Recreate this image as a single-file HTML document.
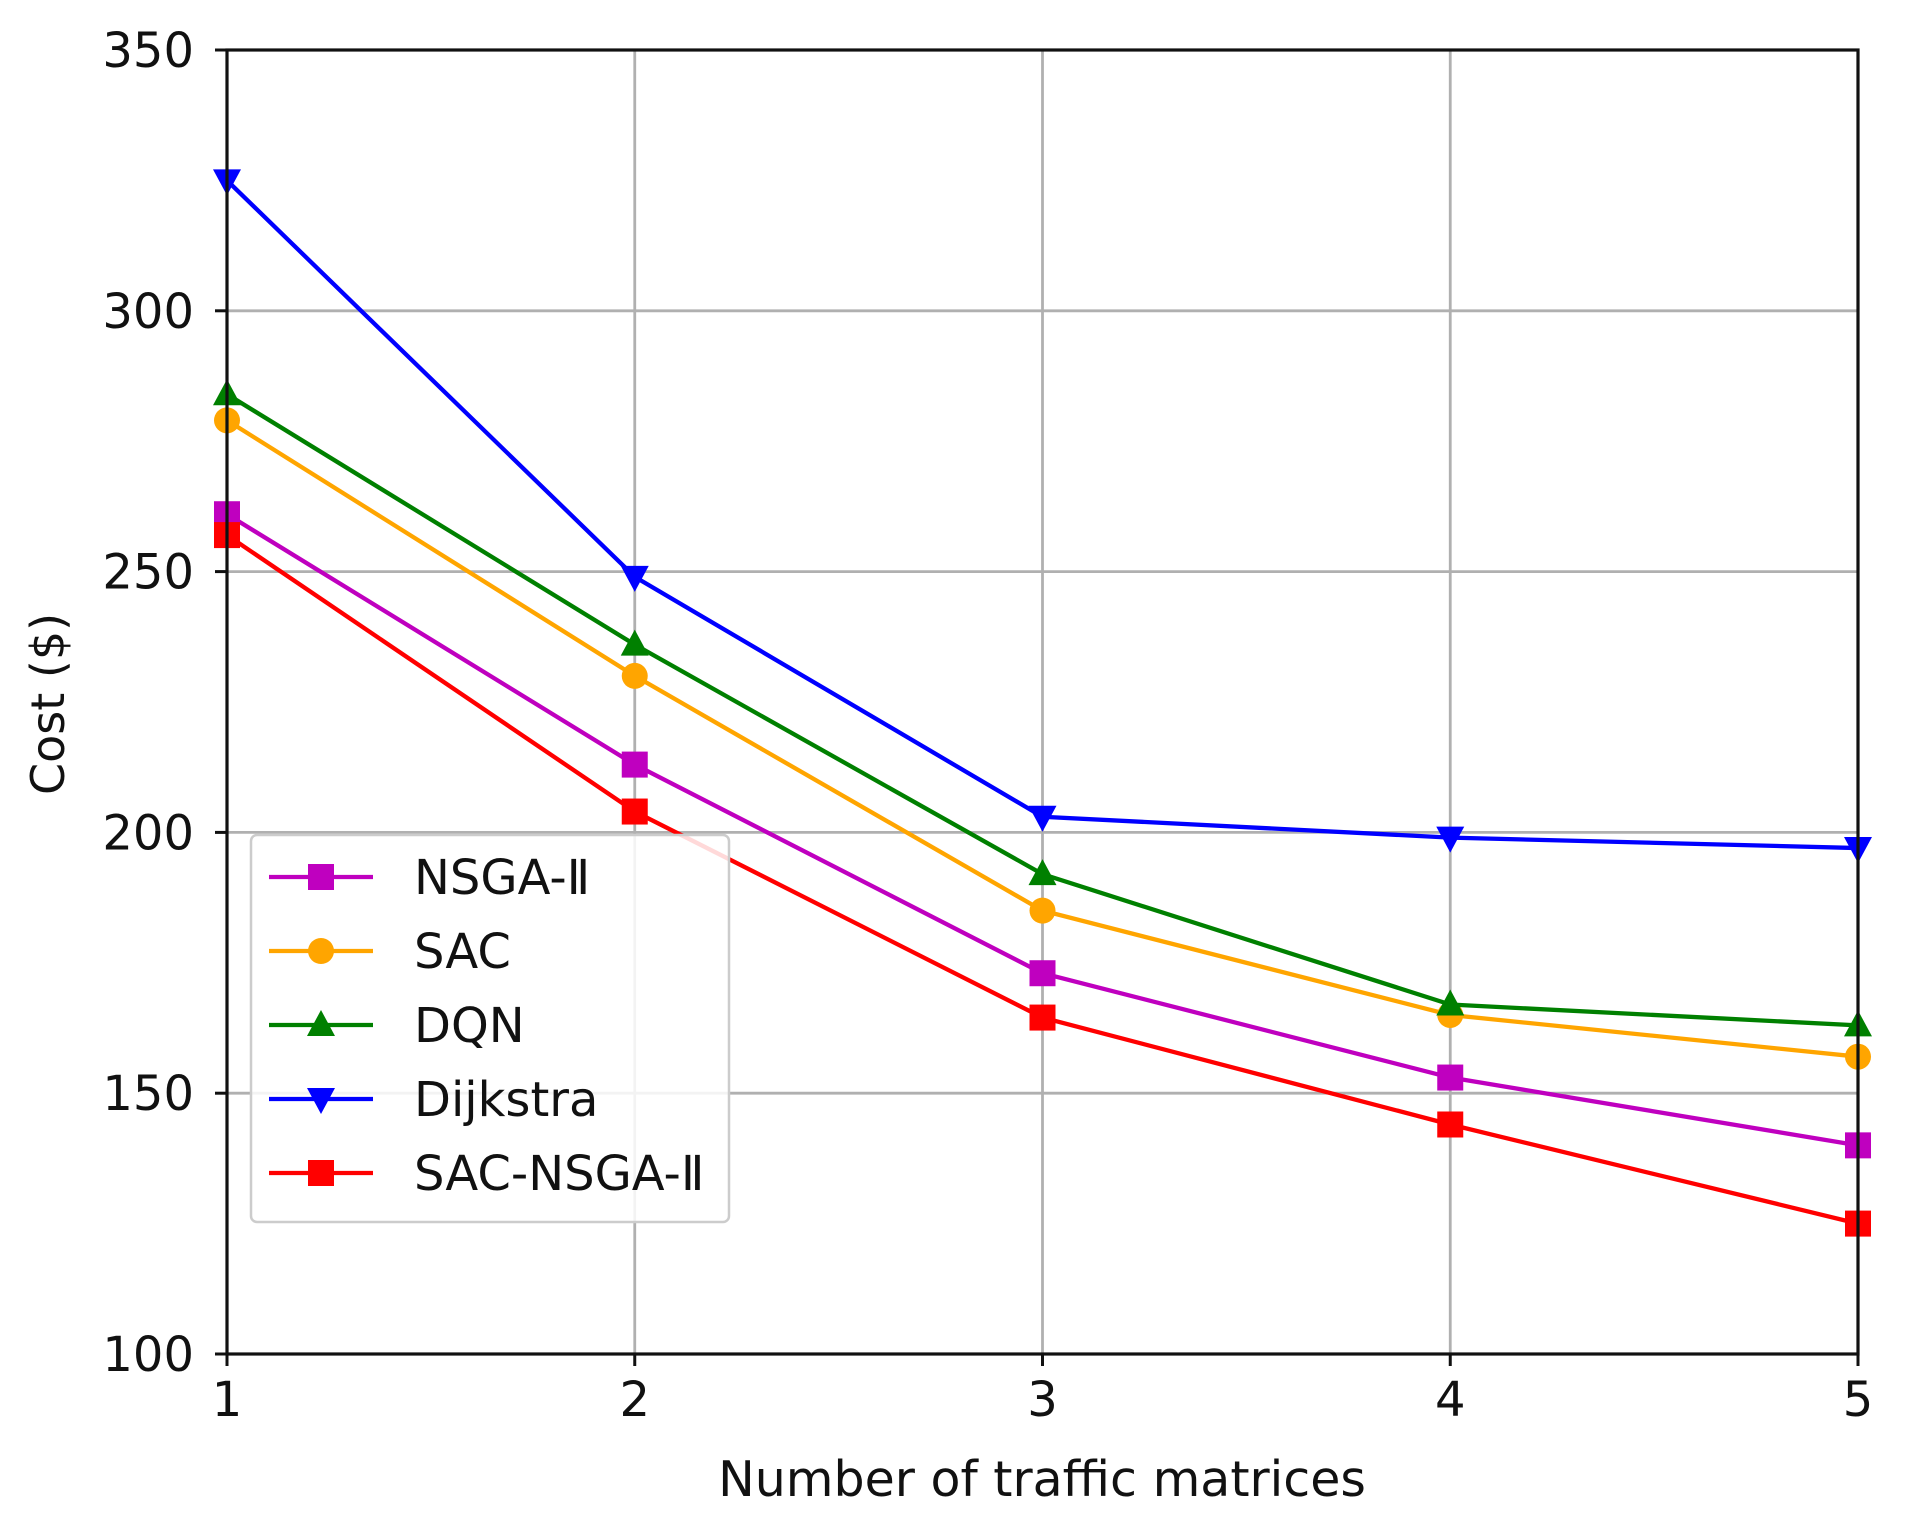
<!DOCTYPE html>
<html><head><meta charset="utf-8"><style>
html,body{margin:0;padding:0;background:#fff;}
svg{display:block;font-family:"DejaVu Sans","Liberation Sans",sans-serif;}
</style></head><body>
<svg id="chart" width="1920" height="1536" viewBox="0 0 1920 1536">
<g id="grid"></g>
<g id="series"></g>
<g id="axes"></g>
<text x="64" y="704" font-size="46" text-anchor="middle" transform="rotate(-90 64 704)" fill="#111">Cost ($)</text>
<text x="1042" y="1496" font-size="49" text-anchor="middle" fill="#111">Number of traffic matrices</text>
<g id="legend"></g>
</svg>
<script>
const categories=[1,2,3,4,5];
const yTicks=[100,150,200,250,300,350];
const seriesNames=["NSGA-Ⅱ","SAC","DQN","Dijkstra","SAC-NSGA-Ⅱ"];
const nsgaValues=[261,213,173,153,140];
const sacValues=[279,230,185,165,157];
const dqnValues=[284,236,192,167,163];
const dijkstraValues=[325,249,203,199,197];
const sacNsgaValues=[257,204,164.5,144,125];

const X0=227,X1=1858,Y0=1354,Y1=50;
const xs=v=>X0+(v-1)/(4)*(X1-X0);
const ys=v=>Y0-(v-100)/(250)*(Y0-Y1);
const NS="http://www.w3.org/2000/svg";
function mk(t,a,p){const e=document.createElementNS(NS,t);for(const k in a)e.setAttribute(k,a[k]);p.appendChild(e);return e;}
const grid=document.getElementById('grid'),axes=document.getElementById('axes'),ser=document.getElementById('series'),leg=document.getElementById('legend');
categories.forEach(c=>{
 const l=mk('line',{x1:xs(c),x2:xs(c),y1:Y1,y2:Y0,stroke:'#b0b0b0','stroke-width':2.8},grid);
 
 
 const t=mk('line',{x1:xs(c),x2:xs(c),y1:Y0,y2:Y0+12,stroke:'#111','stroke-width':3},axes);
 
 
 const tx=mk('text',{x:xs(c),y:Y0+62,'font-size':48,'text-anchor':'middle',fill:'#111'},axes);
 tx.textContent=c;
 
 
});
yTicks.forEach(v=>{
 const l=mk('line',{x1:X0,x2:X1,y1:ys(v),y2:ys(v),stroke:'#b0b0b0','stroke-width':2.8},grid);
 
 
 const t=mk('line',{x1:X0-12,x2:X0,y1:ys(v),y2:ys(v),stroke:'#111','stroke-width':3},axes);
 
 
 const tx=mk('text',{x:X0-33,y:ys(v)+17,'font-size':48,'text-anchor':'end',fill:'#111'},axes);
 tx.textContent=v;
 
 
});
const frame=mk('rect',{x:X0,y:Y1,width:X1-X0,height:Y0-Y1,fill:'none',stroke:'#111','stroke-width':3.2},axes);



function marker(type,x,y,color,p){
 const r=13;let e;
 if(type==='s')e=mk('rect',{x:x-r,y:y-r,width:2*r,height:2*r,fill:color},p);
 else if(type==='o')e=mk('circle',{cx:x,cy:y,r:r,fill:color},p);
 else if(type==='^')e=mk('polygon',{points:`${x},${y-r-2} ${x-r-1},${y+r-2} ${x+r+1},${y+r-2}`,fill:color},p);
 else e=mk('polygon',{points:`${x},${y+r+2} ${x-r-1},${y-r+2} ${x+r+1},${y-r+2}`,fill:color},p);
 return e;
}
const defs=[[nsgaValues,'#bf00bf','s'],[sacValues,'#ffa500','o'],[dqnValues,'#008000','^'],[dijkstraValues,'#0000ff','v'],[sacNsgaValues,'#ff0000','s']];
defs.forEach((d,i)=>{
 const g=mk('g',{},ser);
 
 
 const pl=mk('polyline',{points:d[0].map((v,j)=>xs(categories[j])+','+ys(v)).join(' '),fill:'none',stroke:d[1],'stroke-width':4.3},g);
 
 
 d[0].forEach((v,j)=>{
  const m=marker(d[2],xs(categories[j]),ys(v),d[1],g);
  
  
 });
});
const box=mk('rect',{x:251,y:835,width:478,height:387,rx:6,fill:'#fff','fill-opacity':0.85,stroke:'#ccc','stroke-width':2.5},leg);


defs.forEach((d,i)=>{
 const y=877+i*74;
 const g=mk('g',{},leg);
 
 
 mk('line',{x1:269,x2:373,y1:y,y2:y,stroke:d[1],'stroke-width':4.3},g);
 marker(d[2],321,y,d[1],g);
 const t=mk('text',{x:414,y:y+17,'font-size':48,fill:'#111'},g);
 t.textContent=seriesNames[i];
});
</script>
</body></html>
